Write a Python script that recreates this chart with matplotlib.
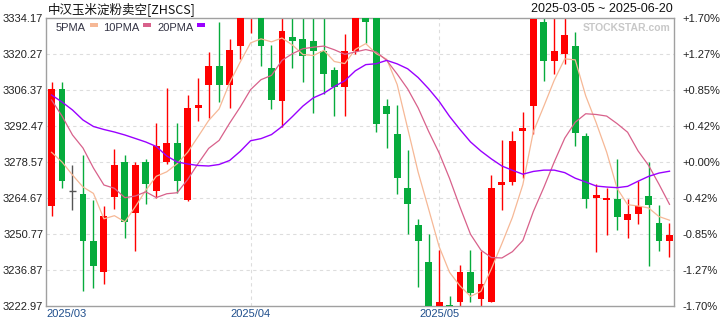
import matplotlib
matplotlib.use('Agg')
import matplotlib.pyplot as plt
from matplotlib.patches import Rectangle
import numpy as np

# Daily candles (2025-03-05 ~ 2025-06-20)
opens = [3261.70, 3306.76, 3267.37, 3266.21, 3248.07, 3236.22, 3265.17, 3278.57, 3258.99, 3278.57,
         3267.49, 3278.57, 3286.02, 3263.90, 3299.54, 3308.30, 3315.64, 3308.30, 3323.47, 3334.40,
         3338.50, 3314.87, 3302.12, 3326.95, 3326.06, 3325.29, 3321.43, 3314.09, 3307.65, 3321.43,
         3345.00, 3340.00, 3300.19, 3289.38, 3268.53, 3254.25, 3239.96, 3221.00, 3223.36, 3224.63,
         3236.10, 3225.68, 3224.63, 3269.69, 3270.96, 3290.54, 3300.31, 3332.51, 3317.68, 3320.46,
         3323.36, 3288.61, 3264.79, 3263.90, 3264.29, 3256.18, 3258.49, 3265.44, 3254.90, 3248.19]
highs = [3309.57, 3309.57, 3277.41, 3281.27, 3263.90, 3261.58, 3283.59, 3281.27, 3278.69, 3279.73,
         3293.75, 3307.26, 3293.75, 3304.44, 3311.12, 3321.16, 3332.51, 3326.06, 3342.00, 3343.00,
         3342.00, 3323.75, 3335.00, 3335.00, 3335.00, 3335.00, 3335.00, 3315.37, 3327.99, 3350.00,
         3350.00, 3345.00, 3302.90, 3300.58, 3283.21, 3256.56, 3250.77, 3244.60, 3226.83, 3238.80,
         3244.60, 3244.33, 3273.55, 3287.07, 3290.54, 3297.76, 3340.00, 3336.00, 3336.00, 3336.00,
         3328.88, 3289.65, 3269.96, 3268.42, 3279.73, 3264.17, 3271.24, 3278.69, 3261.97, 3254.90]
lows = [3257.72, 3268.42, 3260.04, 3228.76, 3230.04, 3231.35, 3260.31, 3249.34, 3244.33, 3262.47,
        3264.79, 3277.92, 3266.49, 3263.63, 3294.40, 3295.68, 3301.85, 3299.54, 3318.22, 3328.26,
        3315.75, 3299.04, 3292.20, 3314.98, 3309.57, 3297.61, 3304.83, 3296.45, 3296.45, 3320.15,
        3324.40, 3290.27, 3284.09, 3266.10, 3250.66, 3230.43, 3218.00, 3218.00, 3220.00, 3221.50,
        3224.40, 3222.80, 3224.40, 3260.04, 3269.69, 3272.28, 3289.27, 3309.96, 3312.55, 3316.29,
        3284.86, 3260.93, 3243.94, 3250.39, 3252.32, 3249.11, 3254.63, 3238.53, 3244.33, 3242.01]
closes = [3306.76, 3271.35, 3267.37, 3248.19, 3238.53, 3257.72, 3277.41, 3255.52, 3277.41, 3270.19,
          3284.75, 3286.02, 3271.35, 3299.42, 3300.58, 3315.64, 3308.30, 3321.81, 3339.00, 3338.00,
          3323.47, 3302.51, 3329.27, 3325.41, 3319.69, 3321.54, 3312.55, 3307.65, 3321.43, 3347.00,
          3332.74, 3293.13, 3296.99, 3272.51, 3262.47, 3248.19, 3222.00, 3224.63, 3222.50, 3236.22,
          3228.11, 3231.58, 3268.53, 3270.96, 3286.68, 3291.58, 3333.60, 3317.68, 3321.43, 3327.68,
          3289.65, 3264.17, 3265.72, 3264.79, 3257.45, 3258.38, 3261.58, 3261.97, 3248.19, 3250.39]

ma5 = [3282.32, 3278.57, 3273.55, 3268.92, 3266.44, 3256.63, 3257.84, 3255.47, 3261.32, 3267.65,
       3273.06, 3274.78, 3277.94, 3282.35, 3288.42, 3294.60, 3299.06, 3309.15, 3317.07, 3324.55,
       3326.12, 3324.96, 3326.45, 3323.73, 3320.07, 3319.68, 3321.69, 3317.37, 3316.57, 3322.03,
       3324.27, 3320.39, 3318.26, 3308.47, 3291.57, 3274.66, 3260.43, 3245.96, 3235.96, 3230.71,
       3226.69, 3228.61, 3237.39, 3247.08, 3257.17, 3269.87, 3290.27, 3300.10, 3310.19, 3318.39,
       3318.01, 3304.12, 3293.73, 3282.40, 3268.36, 3262.10, 3261.58, 3260.83, 3257.51, 3256.10]
ma10 = [3302.51, 3296.33, 3289.00, 3283.98, 3276.25, 3269.69, 3268.42, 3264.79, 3265.44, 3267.05,
        3264.84, 3266.31, 3266.71, 3271.83, 3278.04, 3283.83, 3286.92, 3293.55, 3299.71, 3306.49,
        3310.36, 3312.01, 3317.80, 3320.40, 3322.31, 3322.90, 3323.33, 3321.91, 3320.15, 3321.05,
        3321.98, 3321.04, 3317.81, 3312.52, 3306.80, 3299.47, 3290.41, 3282.11, 3272.22, 3261.14,
        3250.68, 3244.52, 3241.67, 3241.52, 3243.94, 3248.28, 3259.44, 3268.74, 3278.64, 3287.78,
        3293.94, 3297.20, 3296.92, 3296.30, 3293.38, 3290.06, 3282.85, 3277.28, 3269.96, 3262.23]
ma20 = [3304.44, 3301.74, 3298.65, 3294.79, 3292.28, 3291.12, 3290.15, 3289.00, 3287.65, 3286.29,
        3284.56, 3280.89, 3278.57, 3277.80, 3277.22, 3277.03, 3277.61, 3279.15, 3282.63, 3286.77,
        3287.60, 3289.16, 3292.25, 3296.12, 3300.17, 3303.36, 3305.12, 3307.73, 3309.93, 3313.77,
        3316.17, 3316.52, 3317.81, 3316.46, 3314.56, 3311.18, 3306.87, 3302.01, 3296.18, 3291.10,
        3286.33, 3282.78, 3279.74, 3277.02, 3275.37, 3273.87, 3274.93, 3275.43, 3275.43, 3274.46,
        3272.31, 3270.86, 3269.29, 3268.91, 3268.66, 3269.17, 3271.15, 3273.01, 3274.30, 3275.01]

price_ticks = [3222.97, 3236.87, 3250.77, 3264.67, 3278.57, 3292.47, 3306.37, 3320.27, 3334.17]
pct_labels = ['-1.70%', '-1.27%', '-0.85%', '-0.42%', '+0.00%', '+0.42%', '+0.85%', '+1.27%', '+1.70%']
month_labels = ['2025/04', '2025/05']
month_idx = [19, 37]

plt.rcParams['font.family'] = ['Liberation Sans', 'DejaVu Sans']

RED = '#ff0000'
GREEN = '#06ab3c'
DOJI = '#555555'

fig = plt.figure(figsize=(7.2, 3.2), dpi=100)
ax = fig.add_axes([46 / 720, 14 / 320, 628 / 720, 288 / 320])

x = np.arange(len(closes))
o = np.array(opens)
c = np.array(closes)
cols = [RED if cc > oo else (GREEN if cc < oo else DOJI) for oo, cc in zip(o, c)]

ax.vlines(x, lows, highs, colors=cols, linewidth=1.0, zorder=2)
body_h = np.abs(c - o)
ax.bar(x, body_h, bottom=np.minimum(o, c), width=0.66, color=cols, linewidth=0, zorder=3)
doji = body_h == 0
ax.hlines(c[doji], x[doji] - 0.33, x[doji] + 0.33, colors=DOJI, linewidth=1.0, zorder=3)

ax.plot(x, ma5, color='#f6b896', linewidth=0.9, zorder=4)
ax.plot(x, ma10, color='#d8618b', linewidth=0.9, zorder=4)
ax.plot(x, ma20, color='#9a00ff', linewidth=1.0, zorder=4)

ax.set_xlim(-0.53, len(closes) - 1 + 0.43)
ax.set_ylim(price_ticks[0], price_ticks[-1])

# grid
for p in price_ticks[1:-1]:
    ax.axhline(p, color='#dddddd', linewidth=0.8, linestyle=(0, (3, 3)), zorder=1)
for m in month_idx:
    ax.axvline(m, color='#dddddd', linewidth=0.8, linestyle=(0, (3, 3)), zorder=1)

ax.set_yticks(price_ticks)
ax.set_yticklabels(['%.2f' % p for p in price_ticks], fontsize=8, color='#222222')
ax.set_xticks(month_idx)
ax.set_xticklabels(month_labels, fontsize=8, color='#1f4e8c')
ax.tick_params(axis='both', length=0)
ax.tick_params(axis='y', pad=2)
ax.tick_params(axis='x', pad=2)
ax.text(0.0, -0.012, '2025/03', transform=ax.transAxes, ha='left', va='top',
        fontsize=8, color='#1f4e8c')

for s in ax.spines.values():
    s.set_color('#a0a0a0')
    s.set_linewidth(1.0)

ax2 = ax.twinx()
ax2.set_ylim(price_ticks[0], price_ticks[-1])
ax2.set_yticks(price_ticks)
ax2.set_yticklabels(pct_labels, fontsize=8, color='#222222')
ax2.tick_params(axis='y', length=0, pad=6)
for s in ax2.spines.values():
    s.set_visible(False)

# title and date range
fig.text(48 / 720, 1 - 9 / 320, '中汉玉米淀粉卖空[ZHSCS]', ha='left', va='center', fontsize=9,
         family=['Noto Sans CJK SC', 'DejaVu Sans'], color='#111111')
fig.text(673 / 720, 1 - 9 / 320, '2025-03-05 ~ 2025-06-20', ha='right', va='center', fontsize=9,
         color='#111111')

# legend
legend_items = [('5PMA', '#f6b896', 56, 90), ('10PMA', '#d8618b', 103, 143), ('20PMA', '#9a00ff', 157, 197)]
for name, col, tx, sx in legend_items:
    fig.text(tx / 720, 1 - 28 / 320, name, ha='left', va='center', fontsize=8, color='#333344')
    fig.add_artist(Rectangle((sx / 720, 1 - 27 / 320), 8 / 720, 3.5 / 320,
                             transform=fig.transFigure, color=col, linewidth=0))

fig.text(670 / 720, 1 - 28 / 320, 'STOCKSTAR.com', ha='right', va='center', fontsize=7.5,
         fontweight='bold', color='#c8c8c8')

fig.savefig('out.png', dpi=100)
